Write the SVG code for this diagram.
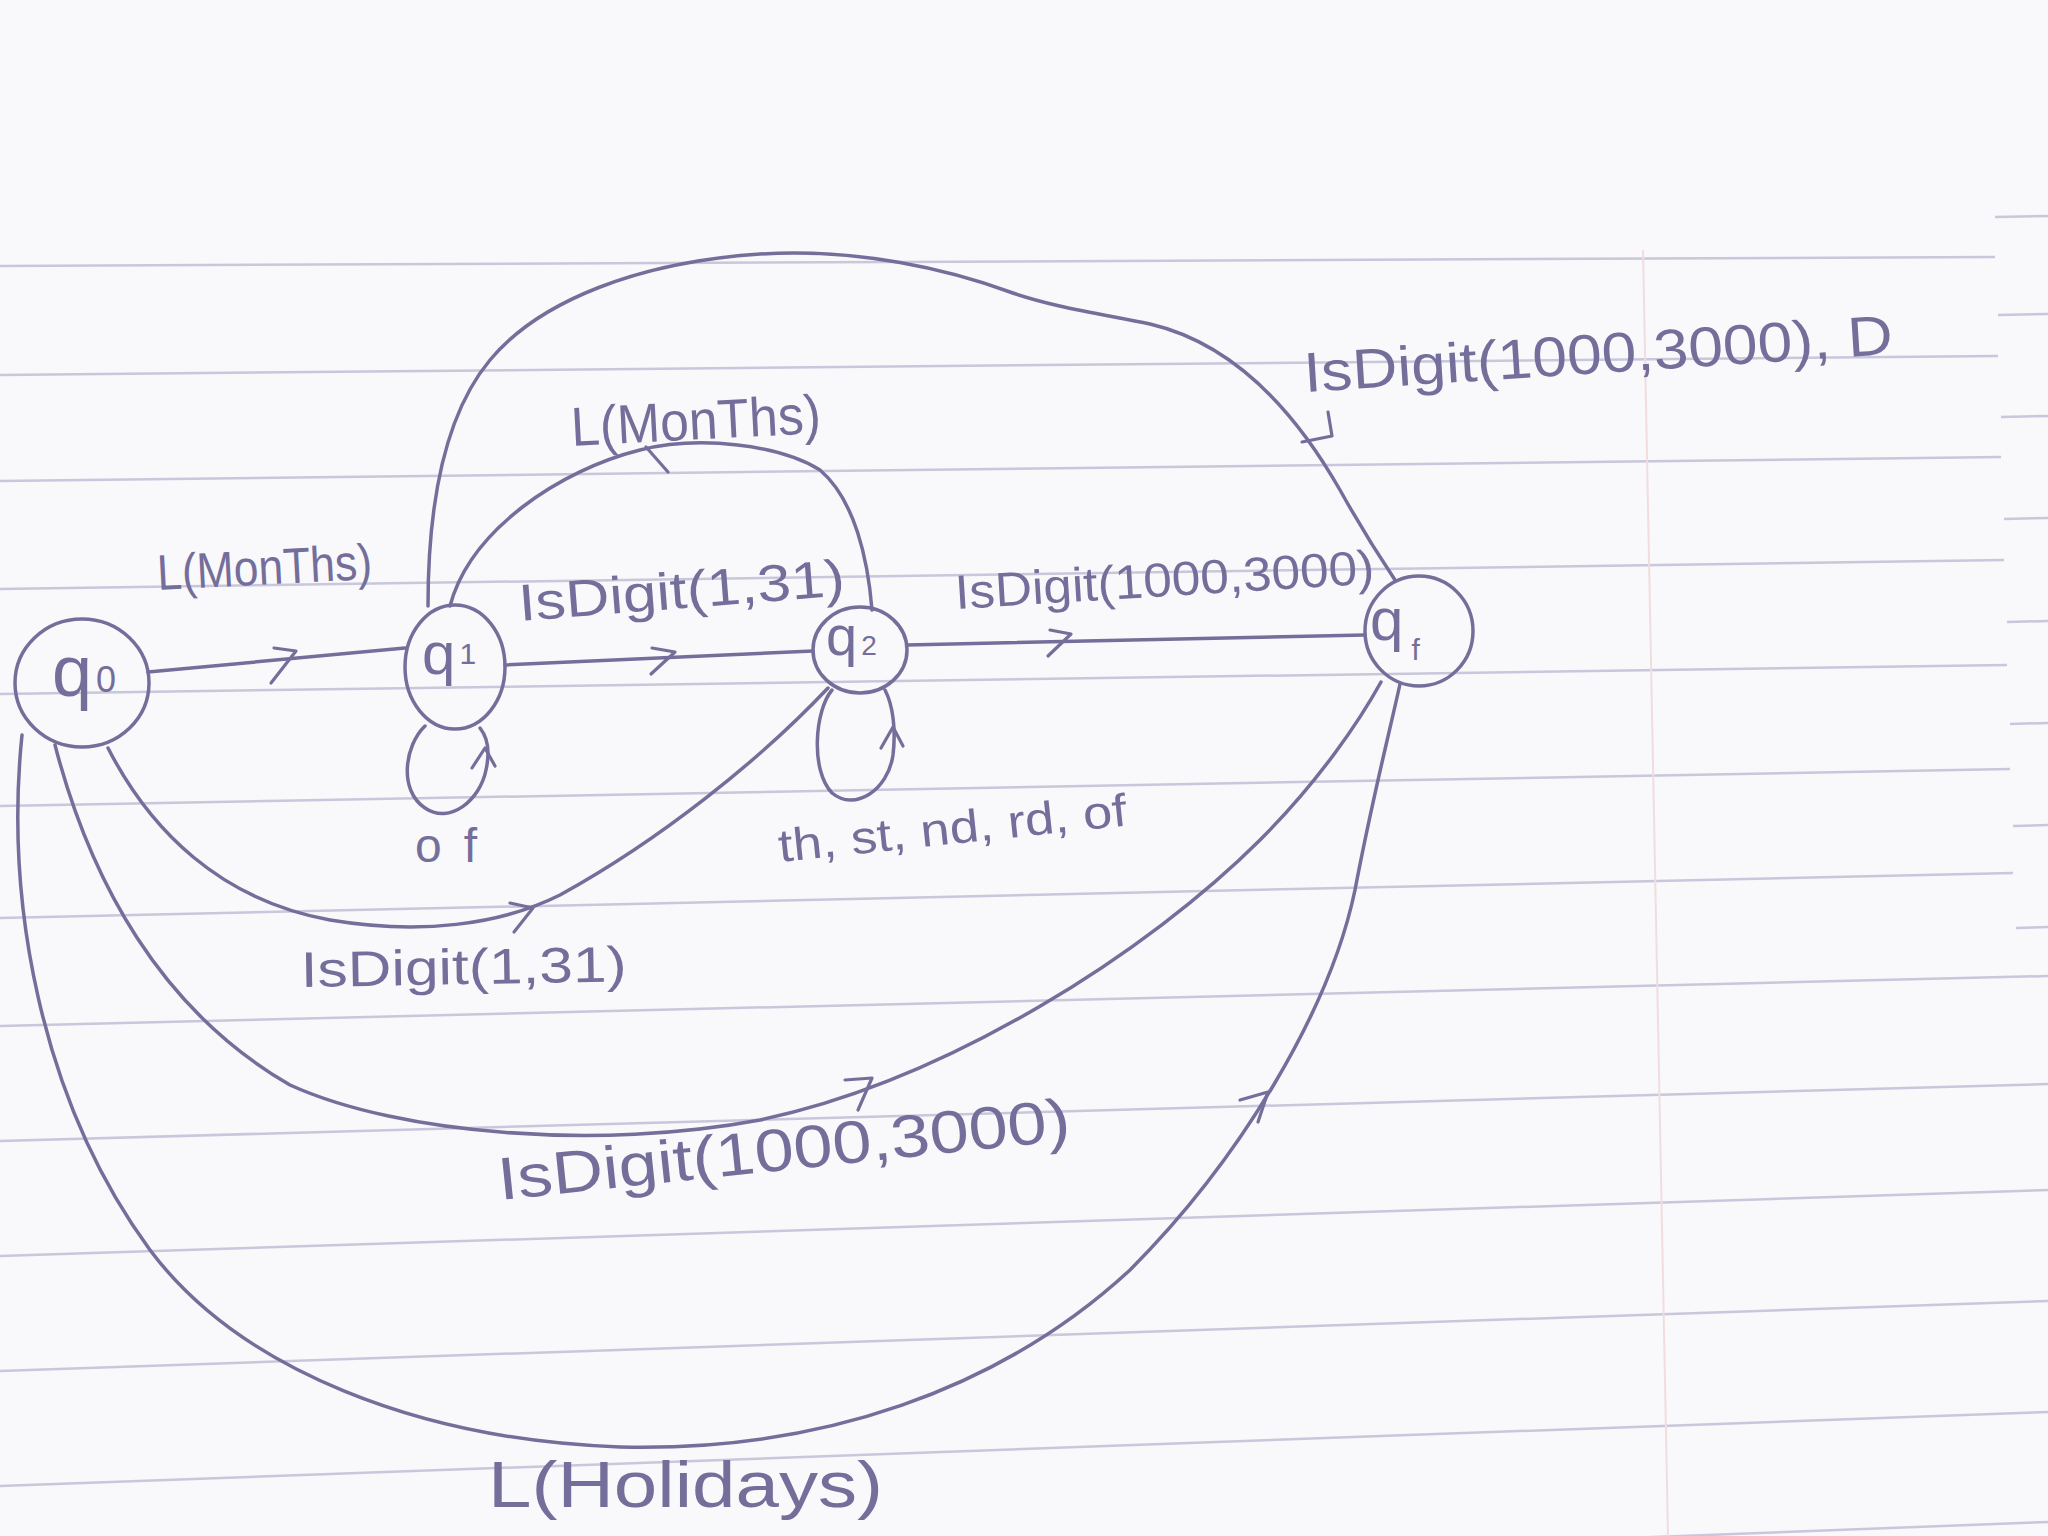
<svg xmlns="http://www.w3.org/2000/svg" width="2048" height="1536" viewBox="0 0 2048 1536">
<style>
.ink{fill:none;stroke:#746e9a;stroke-width:3.5;stroke-linecap:round;stroke-linejoin:round}
.tick{fill:none;stroke:#746e9a;stroke-width:3.2;stroke-linecap:round;stroke-linejoin:round}
.node{fill:none;stroke:#746e9a;stroke-width:3.5}
.lbl{font-family:"Liberation Sans","DejaVu Sans",sans-serif;fill:#746e9a}
.rule{stroke:#c8c7dc;stroke-width:2.5}
</style>
<rect width="2048" height="1536" fill="#f9f8fb"/>
<g id="paper">
<line class="rule" x1="0" y1="266" x2="1995" y2="257"/>
<line class="rule" x1="0" y1="375" x2="1998" y2="356"/>
<line class="rule" x1="0" y1="481" x2="2001" y2="457"/>
<line class="rule" x1="0" y1="589" x2="2004" y2="560"/>
<line class="rule" x1="0" y1="694" x2="2007" y2="665"/>
<line class="rule" x1="0" y1="806" x2="2010" y2="769"/>
<line class="rule" x1="0" y1="918" x2="2013" y2="873"/>
<line class="rule" x1="0" y1="1026" x2="2048" y2="976"/>
<line class="rule" x1="0" y1="1141" x2="2048" y2="1084"/>
<line class="rule" x1="0" y1="1256" x2="2048" y2="1190"/>
<line class="rule" x1="0" y1="1371" x2="2048" y2="1301"/>
<line class="rule" x1="0" y1="1486" x2="2048" y2="1412"/>
<line class="rule" x1="0" y1="1600" x2="2048" y2="1522"/>
<line class="rule" x1="1995" y1="217" x2="2048" y2="216"/>
<line class="rule" x1="1998" y1="315" x2="2048" y2="314"/>
<line class="rule" x1="2001" y1="417" x2="2048" y2="416"/>
<line class="rule" x1="2004" y1="519" x2="2048" y2="518"/>
<line class="rule" x1="2007" y1="622" x2="2048" y2="621"/>
<line class="rule" x1="2010" y1="724" x2="2048" y2="723"/>
<line class="rule" x1="2013" y1="826" x2="2048" y2="825"/>
<line class="rule" x1="2016" y1="928" x2="2048" y2="927"/>
<line x1="1643" y1="250" x2="1668" y2="1536" stroke="#f1dde0" stroke-width="2"/>
</g>
<g id="connectors">
<path class="ink" d="M 148 672 L 405 648"/>
<path class="tick" d="M 274 648 L 296 651 L 271 683"/>
<path class="ink" d="M 505 665 L 813 651"/>
<path class="tick" d="M 652 648 L 675 652 L 651 674"/>
<path class="ink" d="M 907 645 L 1365 635"/>
<path class="tick" d="M 1050 630 L 1071 634 L 1048 656"/>
<path class="ink" d="M 425 726 C 405 745, 398 790, 425 808 C 450 825, 480 800, 486 770 C 490 752, 488 738, 480 728"/>
<path class="tick" d="M 472 768 L 485 748 L 495 766"/>
<path class="ink" d="M 832 690 C 815 710, 810 770, 832 793 C 855 812, 888 790, 893 755 C 896 730, 893 705, 885 690"/>
<path class="tick" d="M 881 748 L 893 727 L 903 746"/>
<path class="ink" d="M 450 606 C 470 530, 560 470, 640 450 C 700 435, 780 445, 820 470 C 855 500, 868 560, 872 610"/>
<path class="tick" d="M 646 447 L 668 472"/>
<path class="ink" d="M 428 606 C 428 520, 440 420, 490 360 C 540 300, 640 262, 760 254 C 860 248, 950 270, 1010 292 C 1050 306, 1090 312, 1150 324 C 1240 345, 1300 420, 1340 490 C 1365 535, 1385 565, 1395 580"/>
<path class="tick" d="M 1328 412 L 1332 436 L 1302 442"/>
<path class="ink" d="M 108 748 C 150 830, 220 900, 330 920 C 420 935, 500 925, 560 895 C 660 840, 760 760, 828 688"/>
<path class="tick" d="M 510 903 L 533 908 L 514 932"/>
<path class="ink" d="M 55 745 C 90 880, 160 1010, 290 1085 C 400 1135, 600 1150, 760 1120 C 950 1080, 1150 950, 1260 840 C 1320 780, 1360 720, 1381 682"/>
<path class="tick" d="M 845 1080 L 872 1078 L 858 1110"/>
<path class="ink" d="M 22 735 C 5 900, 40 1100, 150 1250 C 240 1370, 420 1440, 620 1447 C 820 1452, 1000 1390, 1130 1270 C 1240 1160, 1330 1010, 1355 890 C 1372 800, 1390 730, 1400 684"/>
<path class="tick" d="M 1240 1100 L 1268 1092 L 1258 1122"/>
</g>
<g id="labels">
<text class="lbl" x="158" y="590" font-size="50" textLength="215" lengthAdjust="spacingAndGlyphs" transform="rotate(-3 158 590)">L(MonThs)</text>
<text class="lbl" x="520" y="621" font-size="52" textLength="327" lengthAdjust="spacingAndGlyphs" transform="rotate(-4.5 520 621)">IsDigit(1,31)</text>
<text class="lbl" x="956" y="609" font-size="48" textLength="420" lengthAdjust="spacingAndGlyphs" transform="rotate(-3.5 956 609)">IsDigit(1000,3000)</text>
<text class="lbl" x="572" y="446" font-size="55" textLength="250" lengthAdjust="spacingAndGlyphs" transform="rotate(-3 572 446)">L(MonThs)</text>
<text class="lbl" x="1305" y="392" font-size="56" textLength="590" lengthAdjust="spacingAndGlyphs" transform="rotate(-3.7 1305 392)">IsDigit(1000,3000), D</text>
<text class="lbl" x="415" y="862" font-size="48" letter-spacing="22">of</text>
<text class="lbl" x="780" y="862" font-size="46" textLength="350" lengthAdjust="spacingAndGlyphs" transform="rotate(-6 780 862)">th, st, nd, rd, of</text>
<text class="lbl" x="301" y="987" font-size="50" textLength="326" lengthAdjust="spacingAndGlyphs" transform="rotate(-1 301 987)">IsDigit(1,31)</text>
<text class="lbl" x="500" y="1200" font-size="60" textLength="575" lengthAdjust="spacingAndGlyphs" transform="rotate(-6 500 1200)">IsDigit(1000,3000)</text>
<text class="lbl" x="488" y="1507" font-size="64" textLength="395" lengthAdjust="spacingAndGlyphs">L(Holidays)</text>
</g>
<g id="q0">
<ellipse class="node" cx="82" cy="683" rx="67" ry="64"/>
<text class="lbl" x="52" y="696" font-size="72">q<tspan font-size="36" dx="4" dy="-4">0</tspan></text>
</g>
<g id="q1">
<ellipse class="node" cx="455" cy="667" rx="50" ry="62"/>
<text class="lbl" x="422" y="674" font-size="60">q<tspan font-size="30" dx="4" dy="-10">1</tspan></text>
</g>
<g id="q2">
<ellipse class="node" cx="860" cy="650" rx="47" ry="43"/>
<text class="lbl" x="826" y="655" font-size="56">q<tspan font-size="28" dx="4" dy="0">2</tspan></text>
</g>
<g id="qf">
<ellipse class="node" cx="1419" cy="631" rx="54" ry="55"/>
<text class="lbl" x="1370" y="640" font-size="60">q<tspan font-size="30" dx="8" dy="20">f</tspan></text>
</g>
</svg>
